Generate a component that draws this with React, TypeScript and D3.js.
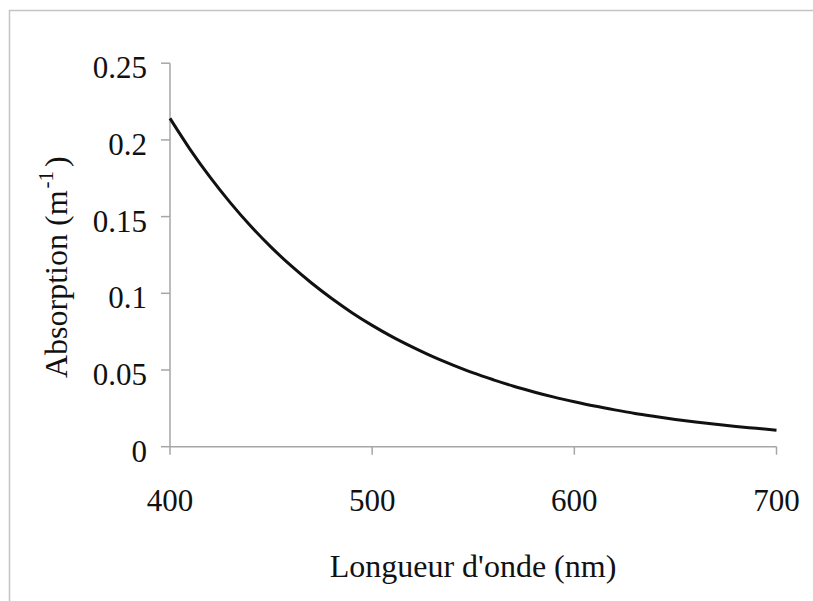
import React from "react";
import * as d3 from "d3";

const wavelengths = [400, 410, 420, 430, 440, 450, 460, 470, 480, 490, 500, 510, 520, 530, 540, 550, 560, 570, 580, 590, 600, 610, 620, 630, 640, 650, 660, 670, 680, 690, 700];
const absorption = [0.214, 0.1937, 0.1754, 0.1588, 0.1437, 0.1301, 0.1178, 0.1067, 0.0966, 0.0874, 0.0791, 0.0716, 0.0649, 0.0587, 0.0532, 0.0481, 0.0436, 0.0394, 0.0357, 0.0323, 0.0293, 0.0265, 0.024, 0.0217, 0.0197, 0.0178, 0.0161, 0.0146, 0.0132, 0.012, 0.0108];
const xTicks = [400, 500, 600, 700];
const yTicks = [0, 0.05, 0.1, 0.15, 0.2, 0.25];
const yTickLabels = ["0", "0.05", "0.1", "0.15", "0.2", "0.25"];
const xTitle = "Longueur d'onde (nm)";

export default function App() {
  const W = 813, H = 601;
  const x = d3.scaleLinear().domain([400, 700]).range([170, 776.5]);
  const y = d3.scaleLinear().domain([0, 0.25]).range([446.7, 63.2]);
  const pts = wavelengths.map((w, i) => [w, absorption[i]] as [number, number]);
  const line = d3.line<[number, number]>().x(d => x(d[0])).y(d => y(d[1])).curve(d3.curveMonotoneX);
  const axisColor = "#a6a6a6";
  const font = "Liberation Serif";
  return (
    <svg width={W} height={H} style={{ position: "absolute", left: 0, top: 0, background: "#fff" }}>
      <rect x={0} y={0} width={W} height={H} fill="#fff" />
      <rect x={9.5} y={10.5} width={W + 20} height={H + 20} fill="none" stroke="#c4c4c4" strokeWidth={1.5} />
      <line x1={x(400)} x2={x(400)} y1={y(0.25)} y2={y(0)} stroke={axisColor} strokeWidth={1.5} />
      <line x1={x(400)} x2={x(700)} y1={y(0)} y2={y(0)} stroke={axisColor} strokeWidth={1.5} />
      {yTicks.map((t, i) => (
        <g key={"y" + i}>
          <line x1={x(400) - 9} x2={x(400)} y1={y(t)} y2={y(t)} stroke={axisColor} strokeWidth={1.5} />
          <text x={147} y={y(t) + 15} textAnchor="end" fontFamily={font} fontSize={31} fill="#111">
            {yTickLabels[i]}
          </text>
        </g>
      ))}
      {xTicks.map((t, i) => (
        <g key={"x" + i}>
          <line x1={x(t)} x2={x(t)} y1={y(0)} y2={y(0) + 8} stroke={axisColor} strokeWidth={1.5} />
          <text x={x(t)} y={511} textAnchor="middle" fontFamily={font} fontSize={31} fill="#111">
            {t}
          </text>
        </g>
      ))}
      <path d={line(pts) || ""} fill="none" stroke="#111" strokeWidth={3} />
      <text x={473} y={577} textAnchor="middle" fontFamily={font} fontSize={32} fill="#111">
        {xTitle}
      </text>
      <text transform="translate(67,378) rotate(-90)" textAnchor="start" fontFamily={font} fontSize={32} fill="#111">
        Absorption (m<tspan fontSize={21} dx={2} dy={-14}>-1</tspan><tspan dx={4} dy={14}>)</tspan>
      </text>
    </svg>
  );
}
